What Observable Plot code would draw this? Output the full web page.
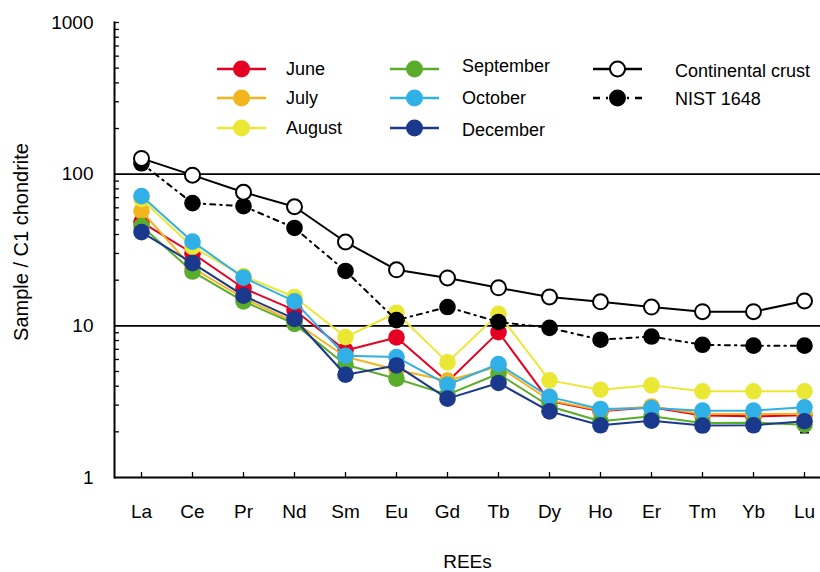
<!DOCTYPE html>
<html>
<head>
<meta charset="utf-8">
<script src="https://cdn.jsdelivr.net/npm/d3@7"></script>
<script src="https://cdn.jsdelivr.net/npm/@observablehq/plot@0.6"></script>
<style>
  html, body { margin: 0; padding: 0; background: #fff; }
  #wrap { position: relative; width: 820px; height: 572px; font-family: "Liberation Sans", Arial, sans-serif; }
  #legend { position: absolute; left: 0; top: 0; width: 820px; height: 150px; pointer-events: none; }
  .item { position: absolute; display: flex; align-items: center; height: 24px; }
  .item svg { display: block; }
  .item span { font-size: 18px; color: #000; white-space: nowrap; }
</style>
</head>
<body>
<div id="wrap"><div id="legend"></div></div>
<script>
// ---- data ----
const categories = ["La","Ce","Pr","Nd","Sm","Eu","Gd","Tb","Dy","Ho","Er","Tm","Yb","Lu"];
const yTicks = [1, 10, 100, 1000];
const yMinorTicks = [2,3,4,5,6,7,8,9,20,30,40,50,60,70,80,90,200,300,400,500,600,700,800,900,1000];

const june      = [48.3, 30.1, 17.7, 12.7, 6.88, 8.38, 4.28, 9.09, 3.19, 2.73, 2.90, 2.56, 2.53, 2.57];
const july      = [57.1, 24.1, 15.2, 10.6, 6.25, 5.13, 4.35, 5.40, 3.23, 2.77, 2.94, 2.62, 2.62, 2.62];
const august    = [68.5, 33.2, 21.3, 15.5, 8.43, 12.2, 5.74, 12.0, 4.37, 3.79, 4.05, 3.70, 3.70, 3.70];
const september = [45.5, 22.8, 14.5, 10.3, 5.54, 4.48, 3.52, 4.83, 2.95, 2.35, 2.53, 2.29, 2.30, 2.23];
const october   = [71.7, 35.9, 20.8, 14.5, 6.35, 6.22, 4.09, 5.60, 3.40, 2.83, 2.87, 2.76, 2.76, 2.90];
const december  = [41.5, 25.9, 15.8, 11.1, 4.76, 5.48, 3.31, 4.20, 2.73, 2.21, 2.37, 2.20, 2.21, 2.35];
const crust     = [127, 98.5, 76, 61, 35.7, 23.4, 20.7, 17.8, 15.5, 14.4, 13.3, 12.4, 12.4, 14.6];
const nist      = [118, 64.4, 61.5, 44.2, 23.0, 10.9, 13.3, 10.6, 9.7, 8.1, 8.5, 7.5, 7.4, 7.4];
// December error bars (low, high), null where hidden by markers
const decErrLow  = [null, null, null, null, 4.35, null, 3.05, null, null, null, null, 2.0, null, 1.98];
const decErrHigh = [null, null, null, null, 5.2, null, 3.6, null, null, null, null, 2.4, null, 2.75];

const monthNames  = ["June","July","August","September","October","December"];
const monthValues = [june, july, august, september, october, december];
const monthColors = ["#e60022","#f2b51d","#ebe835","#5aac2b","#30b0e6","#1a388c"];
const refNames = ["Continental crust", "NIST 1648"];
const xTitle = "REEs";
const yTitle = "Sample / C1 chondrite";

// ---- build tables ----
const toRows = (vals, name) => vals.map((v, i) => ({el: categories[i], v, name}));
const errRows = categories.map((el, i) => ({el, lo: decErrLow[i], hi: decErrHigh[i]})).filter(d => d.lo != null);

const font = "Liberation Sans, Arial, sans-serif";
const marks = [];
const W = 820, H = 572, mL = 114, mT = 22, mB = 95;

// gridlines / axis
marks.push(Plot.ruleY([10, 100], {stroke: "#000", strokeWidth: 1.6}));
marks.push(Plot.ruleY([1], {stroke: "#000", strokeWidth: 2}));
marks.push(Plot.frame({anchor: "left", stroke: "#000", strokeWidth: 2}));
marks.push(Plot.tickY(yMinorTicks, {y: d => d, stroke: "#000", strokeWidth: 1.3, insetRight: W - mL - 5}));
marks.push(Plot.tickX(categories, {x: d => d, stroke: "#000", strokeWidth: 1.3, insetTop: (H - mB - mT) - 5}));

// error bars for December
const capSymbol = {draw(ctx, size) { const w = Math.sqrt(size) / 2; ctx.moveTo(-w, 0); ctx.lineTo(w, 0); }};
marks.push(Plot.ruleX(errRows, {x: "el", y1: "lo", y2: "hi", stroke: "#000", strokeWidth: 1.5}));
marks.push(Plot.dot(errRows, {x: "el", y: "lo", symbol: capSymbol, r: 5, stroke: "#000", strokeWidth: 2}));

// month series
monthValues.forEach((vals, k) => {
  const rows = toRows(vals, monthNames[k]);
  marks.push(Plot.line(rows, {x: "el", y: "v", stroke: monthColors[k], strokeWidth: 2}));
  marks.push(Plot.dot(rows, {x: "el", y: "v", r: 8.3, fill: monthColors[k], stroke: "none"}));
});

// NIST 1648
const nistRows = toRows(nist, refNames[1]);
marks.push(Plot.line(nistRows, {x: "el", y: "v", stroke: "#000", strokeWidth: 2, strokeDasharray: "5,5,1.5,5"}));
marks.push(Plot.dot(nistRows, {x: "el", y: "v", r: 8.3, fill: "#000", stroke: "none"}));

// Continental crust
const crustRows = toRows(crust, refNames[0]);
marks.push(Plot.line(crustRows, {x: "el", y: "v", stroke: "#000", strokeWidth: 2}));
marks.push(Plot.dot(crustRows, {x: "el", y: "v", r: 7.5, fill: "#fff", stroke: "#000", strokeWidth: 2}));

// axes
marks.push(Plot.axisY({ticks: yTicks, tickSize: 0, tickPadding: 21, fontSize: 19, tickFormat: d => String(d), label: null}));
marks.push(Plot.axisX({tickSize: 0, tickPadding: 27, fontSize: 19, label: null}));

// axis titles
marks.push(Plot.text([xTitle], {frameAnchor: "bottom", dy: 90, fontSize: 19, text: d => d}));
marks.push(Plot.text([yTitle], {frameAnchor: "left", textAnchor: "middle", lineAnchor: "middle", dx: -93, dy: -8, rotate: -90, fontSize: 20, text: d => d}));

const chart = Plot.plot({
  width: W, height: H,
  marginTop: mT, marginBottom: mB, marginLeft: mL, marginRight: 0,
  style: {fontFamily: font, background: "#fff", color: "#000", overflow: "visible"},
  x: {type: "point", domain: categories, range: [139.5, 805], padding: 0},
  y: {type: "log", domain: [1, 1000]},
  marks
});
document.getElementById("wrap").prepend(chart);

// ---- legend (HTML overlay) ----
const legendItems = [
  {name: monthNames[0], color: monthColors[0], col: 0, row: 0},
  {name: monthNames[1], color: monthColors[1], col: 0, row: 1},
  {name: monthNames[2], color: monthColors[2], col: 0, row: 2},
  {name: monthNames[3], color: monthColors[3], col: 1, row: 0},
  {name: monthNames[4], color: monthColors[4], col: 1, row: 1},
  {name: monthNames[5], color: monthColors[5], col: 1, row: 2},
  {name: refNames[0], color: "#000", col: 2, row: 0, open: true},
  {name: refNames[1], color: "#000", col: 2, row: 1, dashed: true}
];
const colLeft = [217, 390, 593];
const colGap = [20, 23, 33];
const rowTop = [57, 86, 116];
const textShift = [[0, 0, 0], [-3, 0, 2], [2, 1, 0]];
const leg = document.getElementById("legend");
legendItems.forEach(it => {
  const div = document.createElement("div");
  div.className = "item";
  div.style.left = colLeft[it.col] + "px";
  div.style.top = rowTop[it.row] + "px";
  const sw = 49;
  const line = it.dashed
    ? `<line x1="0" y1="12" x2="${sw}" y2="12" stroke="#000" stroke-width="2.3" stroke-dasharray="7,6,2,6"/>`
    : `<line x1="0" y1="12" x2="${sw}" y2="12" stroke="${it.color}" stroke-width="2.5"/>`;
  const circ = it.open
    ? `<circle cx="${sw/2}" cy="12" r="7.5" fill="#fff" stroke="#000" stroke-width="2"/>`
    : `<circle cx="${sw/2}" cy="12" r="8.5" fill="${it.color}"/>`;
  div.innerHTML = `<svg width="${sw}" height="24">${line}${circ}</svg><span style="margin-left:${colGap[it.col]}px;position:relative;top:${textShift[it.col][it.row]}px">${it.name}</span>`;
  leg.appendChild(div);
});
</script>
</body>
</html>
